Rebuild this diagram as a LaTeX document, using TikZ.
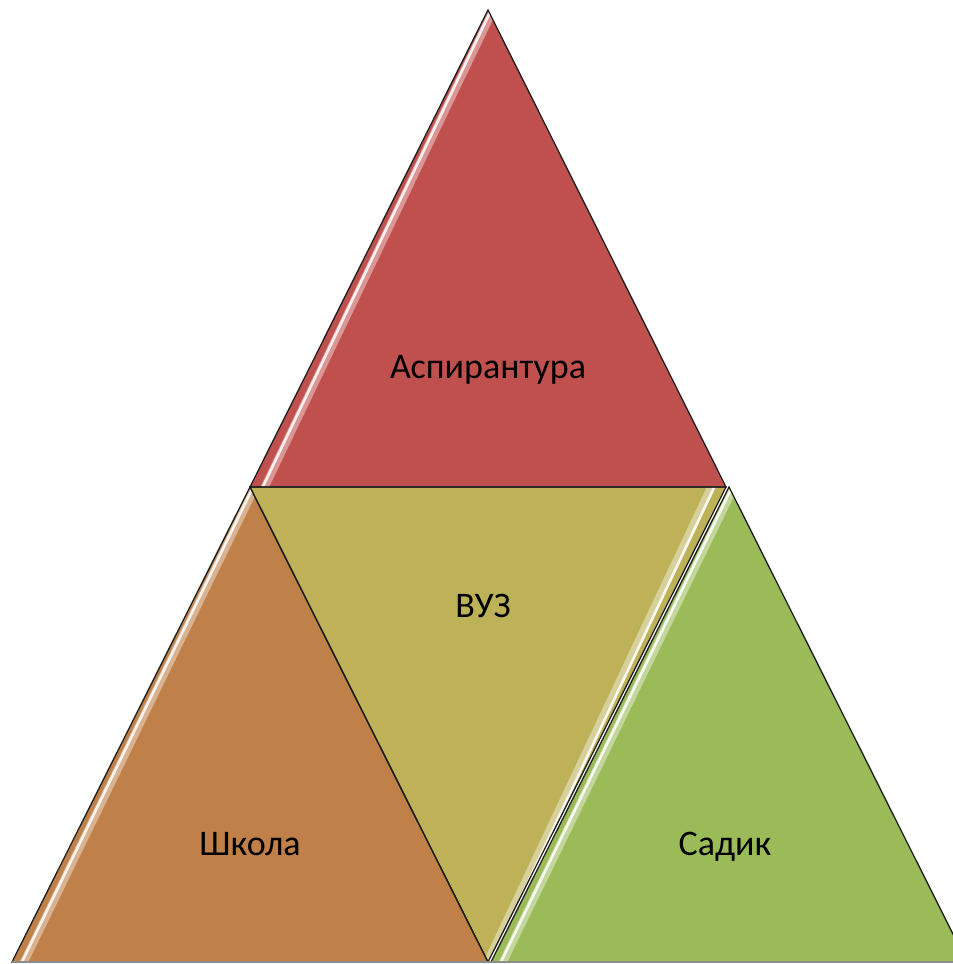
\documentclass[tikz,border=0pt]{standalone}
\usepackage{fontspec}
\setmainfont{Carlito}
\definecolor{cRed}{HTML}{C0504D}
\definecolor{cOlive}{HTML}{BDB257}
\definecolor{cOrange}{HTML}{BF8049}
\definecolor{cGreen}{HTML}{9BBB59}
\definecolor{cEdge}{HTML}{1E1E1E}
\begin{document}
\begin{tikzpicture}[x=1pt,y=-1pt,
  tri/.style={draw=cEdge, line width=1.3pt, line join=miter},
  glossA/.style={white, opacity=0.4, line width=8pt, line cap=round},
  glossB/.style={white, opacity=0.85, line width=2.6pt, line cap=round},
  lbl/.style={font=\fontsize{36}{40}\selectfont, text=black, inner sep=0pt, anchor=base}]
\useasboundingbox (0,0) rectangle (953,964);
\clip (0,0) rectangle (953,964);
% vertices
\coordinate (A) at (488,10);
\coordinate (B) at (250,487);
\coordinate (C) at (726,487);
\coordinate (D) at (12,962);
\coordinate (E) at (488,962);
\coordinate (C2) at (729,487);
\coordinate (E2) at (491,962);
\coordinate (F) at (967,962);
% fills
\fill[cRed] (A) -- (B) -- (C) -- cycle;
\fill[cOlive] (B) -- (C) -- (E) -- cycle;
\fill[cOrange] (B) -- (D) -- (E) -- cycle;
\fill[cGreen] (C2) -- (E2) -- (F) -- cycle;
% gloss highlights
\begin{scope}
  \clip (A) -- (B) -- (C) -- cycle;
  \draw[glossA] ([xshift=9pt,yshift=8pt]A) -- ([xshift=9pt,yshift=-12pt]B);
  \draw[glossB] ([xshift=7pt,yshift=8pt]A) -- ([xshift=7pt,yshift=-12pt]B);
\end{scope}
\begin{scope}
  \clip (B) -- (D) -- (E) -- cycle;
  \draw[glossA] ([xshift=10pt,yshift=10pt]B) -- ([xshift=10pt,yshift=-4pt]D);
  \draw[glossB] ([xshift=8pt,yshift=10pt]B) -- ([xshift=8pt,yshift=-4pt]D);
\end{scope}
\begin{scope}
  \clip (B) -- (C) -- (E) -- cycle;
  \draw[glossA] ([xshift=-10pt,yshift=10pt]C) -- ([xshift=-10pt,yshift=-20pt]E);
  \draw[glossB] ([xshift=-7pt,yshift=10pt]C) -- ([xshift=-7pt,yshift=-20pt]E);
\end{scope}
\begin{scope}
  \clip (C2) -- (E2) -- (F) -- cycle;
  \draw[glossA] ([xshift=10pt,yshift=10pt]C2) -- ([xshift=10pt,yshift=-4pt]E2);
  \draw[glossB] ([xshift=8pt,yshift=10pt]C2) -- ([xshift=8pt,yshift=-4pt]E2);
\end{scope}
% outlines
\draw[tri] (A) -- (B) -- (C) -- cycle;
\draw[tri] (B) -- (C) -- (E) -- cycle;
\draw[tri] (B) -- (D) -- (E) -- cycle;
\draw[tri] (C2) -- (E2) -- (F) -- cycle;
% bottom edge band
\draw[black!45, line width=2.5pt] (D) -- (F);
% labels
\node[lbl] (asp) at (488,378) {Аспирантура};
\node[lbl] (vuz) at (483,617) {ВУЗ};
\node[lbl] (shk) at (250,855) {Школа};
\node[lbl] (sad) at (725,855) {Садик};
\end{tikzpicture}
\end{document}
